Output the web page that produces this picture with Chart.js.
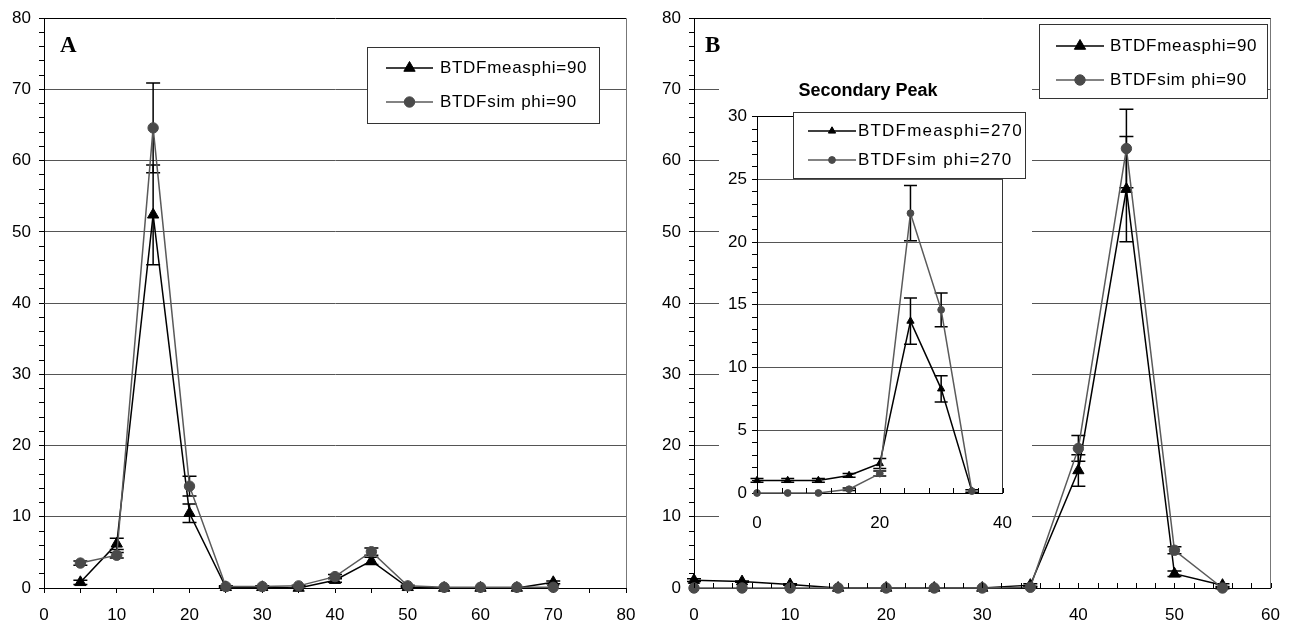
<!DOCTYPE html>
<html>
<head>
<meta charset="utf-8">
<script src="https://cdn.jsdelivr.net/npm/chart.js@4/dist/chart.umd.min.js"></script>
<style>
  body { margin: 0; background: #fff; }
  #wrap { position: relative; width: 1297px; height: 626px; }
  canvas { position: absolute; }
  #chartA { left: 0; top: 0; }
  #chartB { left: 648px; top: 0; }
  #inset { left: 719px; top: 72px; background: #fff; }
</style>
</head>
<body>
<div id="wrap">
  <canvas id="chartA" width="648" height="626"></canvas>
  <canvas id="chartB" width="649" height="626"></canvas>
  <canvas id="inset" width="313" height="470"></canvas>
</div>
<script>
// ---- data ----
const anglesA = [5, 10, 15, 20, 25, 30, 35, 40, 45, 50, 55, 60, 65, 70];
const measA = [0.8, 6.2, 52.4, 10.5, 0.1, 0.1, 0, 1.1, 3.8, 0.1, 0, 0, 0, 0.8];
const measErrA = [0.3, 0.8, 7.0, 1.3, 0.1, 0.1, 0, 0.3, 0.5, 0.1, 0, 0, 0, 0.2];
const simA = [3.5, 4.6, 64.6, 14.3, 0.2, 0.2, 0.3, 1.6, 5.1, 0.3, 0.1, 0.1, 0.1, 0.1];
const simErrA = [0.3, 0.4, 6.3, 1.4, 0.1, 0.1, 0.1, 0.3, 0.5, 0.1, 0, 0, 0, 0];

const anglesB = [0, 5, 10, 15, 20, 25, 30, 35, 40, 45, 50, 55];
const measB = [1.1, 0.9, 0.5, 0, 0, 0, 0, 0.4, 16.5, 56.0, 2.0, 0.4];
const measErrB = [0.2, 0.1, 0.1, 0, 0, 0, 0, 0.2, 2.2, 7.4, 0.4, 0.2];
const simB = [0, 0, 0, 0, 0, 0, 0, 0.1, 19.6, 61.7, 5.3, 0];
const simErrB = [0, 0, 0, 0, 0, 0, 0, 0.1, 1.8, 5.5, 0.5, 0.1];

const anglesInset = [0, 5, 10, 15, 20, 25, 30, 35];
const measInset = [1.0, 1.0, 1.0, 1.4, 2.35, 13.7, 8.3, 0.15];
const measErrInset = [0.15, 0.15, 0.15, 0.15, 0.4, 1.85, 1.05, 0.1];
const simInset = [0, 0, 0, 0.3, 1.55, 22.3, 14.6, 0.15];
const simErrInset = [0, 0, 0, 0.1, 0.2, 2.2, 1.35, 0];

const labelsA = ['BTDFmeasphi=90', 'BTDFsim phi=90'];
const labelsB = ['BTDFmeasphi=90', 'BTDFsim phi=90'];
const labelsInset = ['BTDFmeasphi=270', 'BTDFsim phi=270'];

Chart.defaults.font.family = '"Liberation Sans", Arial, sans-serif';
Chart.defaults.font.size = 17;
Chart.defaults.color = '#000';

// error bars, drawn under the markers
const errorBars = {
    id: 'errorBars',
    beforeDatasetsDraw(chart, args, opts) {
        const ctx = chart.ctx, y = chart.scales.y;
        chart.data.datasets.forEach((ds, i) => {
            if (!ds.errors) return;
            const meta = chart.getDatasetMeta(i);
            ctx.save();
            ctx.strokeStyle = '#000';
            ctx.lineWidth = 1.5;
            meta.data.forEach((pt, j) => {
                const e = ds.errors[j];
                if (!e) return;
                const v = ds.data[j].y;
                const top = y.getPixelForValue(v + e), bot = y.getPixelForValue(v - e);
                ctx.beginPath();
                ctx.moveTo(pt.x, top); ctx.lineTo(pt.x, bot);
                ctx.moveTo(pt.x - opts.cap, top); ctx.lineTo(pt.x + opts.cap, top);
                ctx.moveTo(pt.x - opts.cap, bot); ctx.lineTo(pt.x + opts.cap, bot);
                ctx.stroke();
            });
            ctx.restore();
        });
    }
};

// small ticks pointing up into the plot
const innerTicks = {
    id: 'innerTicks',
    afterDraw(chart, args, opts) {
        if (!opts.step) return;
        const x = chart.scales.x, ctx = chart.ctx, yb = chart.chartArea.bottom;
        ctx.save();
        ctx.strokeStyle = '#000';
        ctx.lineWidth = 1;
        ctx.beginPath();
        for (let v = x.min; v <= x.max; v += opts.step) {
            const px = Math.round(x.getPixelForValue(v)) + 0.5;
            ctx.moveTo(px, yb + (opts.below || 0));
            ctx.lineTo(px, yb - opts.length);
        }
        ctx.stroke();
        ctx.restore();
    }
};

// framed legend inside the plot
const boxLegend = {
    id: 'boxLegend',
    afterDraw(chart, args, o) {
        if (!o.w) return;
        const ctx = chart.ctx;
        ctx.save();
        ctx.fillStyle = '#fff';
        ctx.fillRect(o.x, o.y, o.w, o.h);
        ctx.strokeStyle = '#333';
        ctx.lineWidth = 1;
        ctx.strokeRect(Math.round(o.x) + 0.5, Math.round(o.y) + 0.5, o.w, o.h);
        chart.data.datasets.forEach((ds, i) => {
            const cy = o.y + o.rows[i];
            const x0 = o.x + o.lineX, x1 = x0 + o.lineLen;
            ctx.strokeStyle = ds.borderColor;
            ctx.lineWidth = ds.borderWidth;
            ctx.beginPath(); ctx.moveTo(x0, cy); ctx.lineTo(x1, cy); ctx.stroke();
            ctx.fillStyle = ds.pointBackgroundColor;
            ctx.strokeStyle = ds.pointBorderColor;
            ctx.lineWidth = 1;
            Chart.helpers.drawPoint(ctx, {pointStyle: ds.pointStyle, radius: ds.pointRadius, borderWidth: 1, rotation: 0}, (x0 + x1) / 2, cy);
            ctx.fillStyle = '#000';
            ctx.font = o.font;
            ctx.letterSpacing = o.spacing;
            ctx.textBaseline = 'middle';
            ctx.textAlign = 'left';
            ctx.fillText(ds.label, x1 + o.gap, cy);
        });
        ctx.restore();
    }
};

const panelLabel = {
    id: 'panelLabel',
    afterDraw(chart, args, o) {
        if (!o.text) return;
        const ctx = chart.ctx, a = chart.chartArea;
        ctx.save();
        ctx.font = 'bold 23px "Liberation Serif", "Times New Roman", serif';
        ctx.fillStyle = '#000';
        ctx.textBaseline = 'alphabetic';
        ctx.fillText(o.text, a.left + o.dx, a.top + o.dy);
        ctx.restore();
    }
};

function series(label, xs, ys, errs, style) {
    return Object.assign({
        label: label,
        data: xs.map((x, i) => ({x: x, y: ys[i]})),
        errors: errs,
        tension: 0,
        clip: false,
        borderWidth: 1.5,
        pointBorderWidth: 1
    }, style);
}

const measStyle = {borderColor: '#000', pointBackgroundColor: '#000', pointBorderColor: '#000', pointStyle: 'triangle', pointRadius: 6.5, order: 1};
const simStyle = {borderColor: '#5a5a5a', pointBackgroundColor: '#4a4a4a', pointBorderColor: '#4a4a4a', pointStyle: 'circle', pointRadius: 5.2, order: 0};
const measSmall = Object.assign({}, measStyle, {pointRadius: 4.2});
const simSmall = Object.assign({}, simStyle, {pointRadius: 3.4});

function majorGrid(step, top) {
    return c => {
        const v = c.tick.value;
        if (v === top) return '#000';
        return (v % step === 0 && v !== 0) ? '#555' : 'rgba(0,0,0,0)';
    };
}
function edgeGrid(max, color) {
    return c => c.tick.value === max ? color : 'rgba(0,0,0,0)';
}

// ---- chart A ----
new Chart(document.getElementById('chartA'), {
    type: 'line',
    data: {
        datasets: [
            series(labelsA[0], anglesA, measA, measErrA, measStyle),
            series(labelsA[1], anglesA, simA, simErrA, simStyle)
        ]
    },
    options: {
        responsive: false,
        animation: false,
        devicePixelRatio: 1,
        layout: {padding: {top: 16, right: 22, left: 0, bottom: 0}},
        scales: {
            x: {
                type: 'linear', min: 0, max: 80,
                ticks: {stepSize: 5, autoSkip: false, maxRotation: 0, padding: 12,
                    callback: v => v % 10 === 0 ? v : ''},
                grid: {color: edgeGrid(80, '#777'), tickColor: '#000', tickLength: 5},
                border: {color: '#000', width: 1},
                afterFit: s => { s.height = 38; }
            },
            y: {
                min: 0, max: 80,
                ticks: {stepSize: 2, autoSkip: false, padding: 8,
                    callback: v => v % 10 === 0 ? v : ''},
                grid: {color: majorGrid(10, 80), tickColor: '#000', tickLength: 5},
                border: {color: '#000', width: 1},
                afterFit: s => { s.width = 44; }
            }
        },
        plugins: {
            legend: {display: false},
            tooltip: {enabled: false},
            errorBars: {cap: 7},
            boxLegend: {x: 367, y: 47, w: 232, h: 76, lineX: 19, lineLen: 47, gap: 7, rows: [21, 55],
                font: '17px "Liberation Sans", Arial, sans-serif', spacing: '0.7px'},
            panelLabel: {text: 'A', dx: 16, dy: 34}
        }
    },
    plugins: [errorBars, boxLegend, panelLabel]
});

// ---- chart B ----
new Chart(document.getElementById('chartB'), {
    type: 'line',
    data: {
        datasets: [
            series(labelsB[0], anglesB, measB, measErrB, measStyle),
            series(labelsB[1], anglesB, simB, simErrB, simStyle)
        ]
    },
    options: {
        responsive: false,
        animation: false,
        devicePixelRatio: 1,
        layout: {padding: {top: 16, right: 22, left: 0, bottom: 0}},
        scales: {
            x: {
                type: 'linear', min: 0, max: 60,
                ticks: {stepSize: 10, autoSkip: false, maxRotation: 0, padding: 17},
                grid: {color: edgeGrid(60, '#777'), drawTicks: false},
                border: {color: '#000', width: 1},
                afterFit: s => { s.height = 38; }
            },
            y: {
                min: 0, max: 80,
                ticks: {stepSize: 2, autoSkip: false, padding: 8,
                    callback: v => v % 10 === 0 ? v : ''},
                grid: {color: majorGrid(10, 80), tickColor: '#000', tickLength: 5},
                border: {color: '#000', width: 1},
                afterFit: s => { s.width = 46; }
            }
        },
        plugins: {
            legend: {display: false},
            tooltip: {enabled: false},
            errorBars: {cap: 7},
            innerTicks: {step: 2, length: 5, below: 0},
            boxLegend: {x: 391, y: 24, w: 228, h: 74, lineX: 17, lineLen: 48, gap: 6, rows: [22, 56],
                font: '17px "Liberation Sans", Arial, sans-serif', spacing: '0.7px'},
            panelLabel: {text: 'B', dx: 11, dy: 34}
        }
    },
    plugins: [errorBars, innerTicks, boxLegend, panelLabel]
});

// ---- inset: secondary peak ----
new Chart(document.getElementById('inset'), {
    type: 'line',
    data: {
        datasets: [
            series(labelsInset[0], anglesInset, measInset, measErrInset, measSmall),
            series(labelsInset[1], anglesInset, simInset, simErrInset, simSmall)
        ]
    },
    options: {
        responsive: false,
        animation: false,
        devicePixelRatio: 1,
        layout: {padding: {top: 0, right: 15, left: 0, bottom: 0}},
        scales: {
            x: {
                type: 'linear', min: 0, max: 40,
                ticks: {stepSize: 20, autoSkip: false, maxRotation: 0, padding: 20},
                grid: {color: edgeGrid(40, '#333'), drawTicks: false},
                border: {color: '#000', width: 1},
                afterFit: s => { s.height = 49; }
            },
            y: {
                min: 0, max: 30,
                ticks: {stepSize: 1, autoSkip: false, padding: 5,
                    callback: v => v % 5 === 0 ? v : ''},
                grid: {color: majorGrid(5, 30), tickColor: '#000', tickLength: 5},
                border: {color: '#000', width: 1},
                afterFit: s => { s.width = 38; }
            }
        },
        plugins: {
            legend: {display: false},
            tooltip: {enabled: false},
            title: {display: true, text: 'Secondary Peak', color: '#000',
                font: {size: 18, weight: 'bold'}, padding: {top: 8, bottom: 15}},
            errorBars: {cap: 6.5},
            innerTicks: {step: 4, length: 5, below: 0},
            boxLegend: {x: 74, y: 40, w: 232, h: 66, lineX: 15, lineLen: 48, gap: 2, rows: [19, 48],
                font: '17px "Liberation Sans", Arial, sans-serif', spacing: '1.2px'}
        }
    },
    plugins: [errorBars, innerTicks, boxLegend]
});
</script>
</body>
</html>
